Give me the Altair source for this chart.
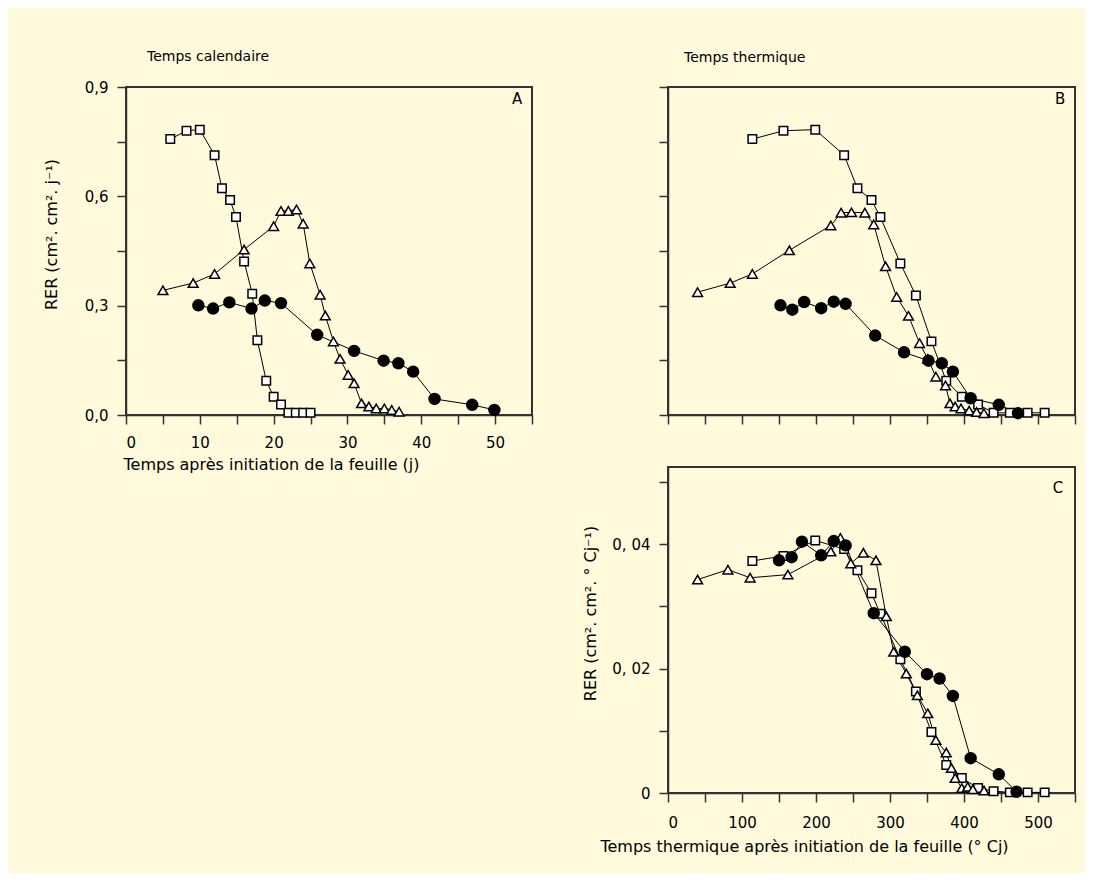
import altair as alt
import pandas as pd

FONT = "DejaVu Sans"
BG = "#FFFADC"
INK = "#333333"

# ---------------- Panel A : calendar time (days) ----------------
a_sq_x = [6, 8.2, 10, 12, 13, 14.1, 14.9, 16, 17.1, 17.8, 19, 20, 21, 22, 23, 24, 25]
a_sq_y = [0.757, 0.78, 0.783, 0.713, 0.622, 0.59, 0.543, 0.421, 0.333, 0.205, 0.094, 0.05, 0.029, 0.006, 0.006, 0.006, 0.006]
a_tri_x = [5, 9.1, 12, 16, 20, 21, 22, 23.1, 24, 24.9, 26.3, 27, 28.1, 29, 30.1, 30.9, 31.9, 32.9, 33.9, 35, 36, 37]
a_tri_y = [0.342, 0.362, 0.387, 0.454, 0.518, 0.56, 0.56, 0.564, 0.525, 0.416, 0.33, 0.273, 0.202, 0.154, 0.11, 0.087, 0.032, 0.023, 0.018, 0.018, 0.014, 0.009]
a_ci_x = [9.8, 11.8, 14, 17, 18.8, 21, 25.9, 30.9, 34.9, 36.9, 38.9, 41.8, 46.9, 49.9]
a_ci_y = [0.301, 0.292, 0.309, 0.292, 0.314, 0.307, 0.22, 0.176, 0.149, 0.142, 0.119, 0.044, 0.028, 0.014]

# ---------------- Panel B : thermal time, RER per day ----------------
b_sq_x = [114, 156, 199, 238, 256, 275, 287, 314, 335, 356, 376, 397, 419, 440, 462, 486, 509]
b_sq_y = [0.757, 0.78, 0.783, 0.713, 0.622, 0.59, 0.543, 0.416, 0.328, 0.202, 0.094, 0.05, 0.029, 0.006, 0.006, 0.006, 0.006]
b_tri_x = [40, 84, 114, 164, 220, 234, 248, 266, 278, 294, 309, 325, 340, 351, 362, 375, 381, 388, 396, 407, 417, 427]
b_tri_y = [0.337, 0.362, 0.387, 0.452, 0.52, 0.555, 0.556, 0.555, 0.523, 0.408, 0.324, 0.272, 0.197, 0.154, 0.105, 0.081, 0.032, 0.023, 0.018, 0.012, 0.008, 0.005]
b_ci_x = [152, 168, 184, 207, 224, 240, 280, 319, 352, 370, 385, 409, 447, 473]
b_ci_y = [0.301, 0.289, 0.31, 0.293, 0.311, 0.305, 0.218, 0.172, 0.149, 0.142, 0.119, 0.046, 0.028, 0.005]

# ---------------- Panel C : thermal time, RER per degree-day ----------------
c_sq_x = [114, 156, 199, 238, 256, 275, 287, 314, 335, 356, 376, 397, 419, 440, 462, 486, 509]
c_sq_y = [0.0373, 0.0381, 0.0406, 0.0392, 0.0358, 0.0321, 0.0288, 0.0215, 0.0163, 0.0098, 0.0045, 0.0024, 0.0008, 0.0003, 0.0001, 0.0001, 0.0001]
c_tri_x = [40, 81, 111, 162, 220, 233, 247, 264, 281, 295, 305, 322, 337, 351, 362, 376, 383, 388, 397, 405, 412, 427]
c_tri_y = [0.0343, 0.0359, 0.0346, 0.0351, 0.0388, 0.041, 0.0369, 0.0386, 0.0374, 0.0284, 0.0227, 0.0192, 0.0157, 0.0128, 0.0085, 0.0065, 0.004, 0.0024, 0.0008, 0.001, 0.0006, 0.0004]
c_ci_x = [150, 167, 181, 207, 224, 240, 278, 320, 350, 367, 385, 409, 447, 471]
c_ci_y = [0.0374, 0.0379, 0.0404, 0.0382, 0.0405, 0.0398, 0.0289, 0.0227, 0.0191, 0.0184, 0.0156, 0.0056, 0.003, 0.0002]

# panel letters (data coordinates)
letters = ["A", "B", "C"]
letter_x = [53, 530, 527]
letter_y = [0.867, 0.867, 0.049]

series_names = ["carre", "triangle", "rond"]


def frame(sq, tri, ci):
    rows = []
    for name, (xs, ys) in zip(series_names, [sq, tri, ci]):
        for i, (x, y) in enumerate(zip(xs, ys)):
            rows.append({"series": name, "i": i, "x": x, "y": y})
    return pd.DataFrame(rows)


shape_enc = alt.Shape("series:N", scale=alt.Scale(domain=series_names,
                      range=["square", "triangle-up", "circle"]), legend=None)
fill_enc = alt.Fill("series:N", scale=alt.Scale(domain=series_names,
                    range=["white", "white", "black"]), legend=None)
size_enc = alt.Size("series:N", scale=alt.Scale(domain=series_names,
                    range=[72, 120, 80]), legend=None)


def panel(df, xenc, yenc, letter_idx, width, height, title=None):
    lab = pd.DataFrame({"x": [letter_x[letter_idx]], "y": [letter_y[letter_idx]],
                        "t": [letters[letter_idx]]})
    line = alt.Chart(df).mark_line(color="black", strokeWidth=1).encode(
        x=xenc, y=yenc, detail="series:N", order="i:Q")
    pts = alt.Chart(df).mark_point(filled=True, stroke="black", strokeWidth=1.5,
                                   opacity=1).encode(
        x=xenc, y=yenc, shape=shape_enc, fill=fill_enc, size=size_enc)
    txt = alt.Chart(lab).mark_text(font=FONT, fontSize=15, color="black").encode(
        x=xenc, y=yenc, text="t:N")
    ch = alt.layer(line, pts, txt).properties(width=width, height=height)
    if title is not None:
        ch = ch.properties(title=title)
    return ch


# ---- axes ----
xA = alt.X("x:Q", scale=alt.Scale(domain=[0, 55], nice=False, zero=False),
           axis=alt.Axis(values=list(range(0, 56, 5)),
                         labelExpr="datum.value % 10 == 0 ? datum.label : ''",
                         labelPadding=11, titlePadding=6, titleX=145),
           title="Temps après initiation de la feuille (j)")
yA = alt.Y("y:Q", scale=alt.Scale(domain=[0, 0.9], nice=False),
           axis=alt.Axis(values=[0, 0.15, 0.3, 0.45, 0.6, 0.75, 0.9],
                         labelExpr="(round(datum.value*100) % 30 == 0) ? replace(format(datum.value, '.1f'), '.', ',') : ''",
                         labelPadding=9, titlePadding=25, titleY=147),
           title="RER (cm². cm². j⁻¹)")

xB = alt.X("x:Q", scale=alt.Scale(domain=[0, 550], nice=False, zero=False),
           axis=alt.Axis(values=list(range(0, 551, 50)), labels=False),
           title=None)
yB = alt.Y("y:Q", scale=alt.Scale(domain=[0, 0.9], nice=False),
           axis=alt.Axis(values=[0, 0.15, 0.3, 0.45, 0.6, 0.75, 0.9], labels=False),
           title=None)

xC = alt.X("x:Q", scale=alt.Scale(domain=[0, 550], nice=False, zero=False),
           axis=alt.Axis(values=list(range(0, 551, 50)),
                         labelExpr="datum.value % 100 == 0 ? datum.label : ''",
                         labelPadding=13, titlePadding=8, titleX=136),
           title="Temps thermique après initiation de la feuille (° Cj)")
yC = alt.Y("y:Q", scale=alt.Scale(domain=[0, 0.0524], nice=False),
           axis=alt.Axis(values=[0, 0.01, 0.02, 0.03, 0.04, 0.05],
                         labelExpr="datum.value == 0 ? '0' : (round(datum.value*1000) % 20 == 0 ? '0, 0' + format(datum.value*100, 'd') : '')",
                         labelPadding=9, titlePadding=13, titleY=146),
           title="RER (cm². cm². ° Cj⁻¹)")

tA = alt.TitleParams("Temps calendaire", anchor="start", dx=21, offset=16,
                     frame="group", font=FONT, fontSize=14, fontWeight="normal",
                     color="black")
tB = alt.TitleParams("Temps thermique", anchor="start", dx=16, offset=21,
                     frame="group", font=FONT, fontSize=14, fontWeight="normal",
                     color="black")

A = panel(frame((a_sq_x, a_sq_y), (a_tri_x, a_tri_y), (a_ci_x, a_ci_y)), xA, yA, 0, 406, 328, tA)
B = panel(frame((b_sq_x, b_sq_y), (b_tri_x, b_tri_y), (b_ci_x, b_ci_y)), xB, yB, 1, 407, 328, tB)
C = panel(frame((c_sq_x, c_sq_y), (c_tri_x, c_tri_y), (c_ci_x, c_ci_y)), xC, yC, 2, 407, 326)

blank = alt.Chart(pd.DataFrame({"x": [0]})).mark_point(opacity=0).encode(
    x=alt.X("x:Q", axis=None), y=alt.Y("x:Q", axis=None)
).properties(width=406, height=326, view=alt.ViewBackground(stroke="transparent"))

chart = alt.concat(A, B, blank, C, columns=2, bounds="flush",
                   spacing={"row": 52, "column": 136}).configure(
    background=BG,
    padding={"left": 34, "top": 41, "right": 8, "bottom": 18},
    font=FONT,
).configure_view(stroke=INK, strokeWidth=2).configure_axis(
    domainColor=INK, domainWidth=1.5, tickColor=INK, tickWidth=1.5, tickSize=9,
    labelFont=FONT, labelFontSize=15, labelColor="black",
    titleFont=FONT, titleFontSize=16, titleFontWeight="normal", titleColor="black",
    grid=False,
)

chart.save("out.html", embed_options={"renderer": "svg", "actions": False})
